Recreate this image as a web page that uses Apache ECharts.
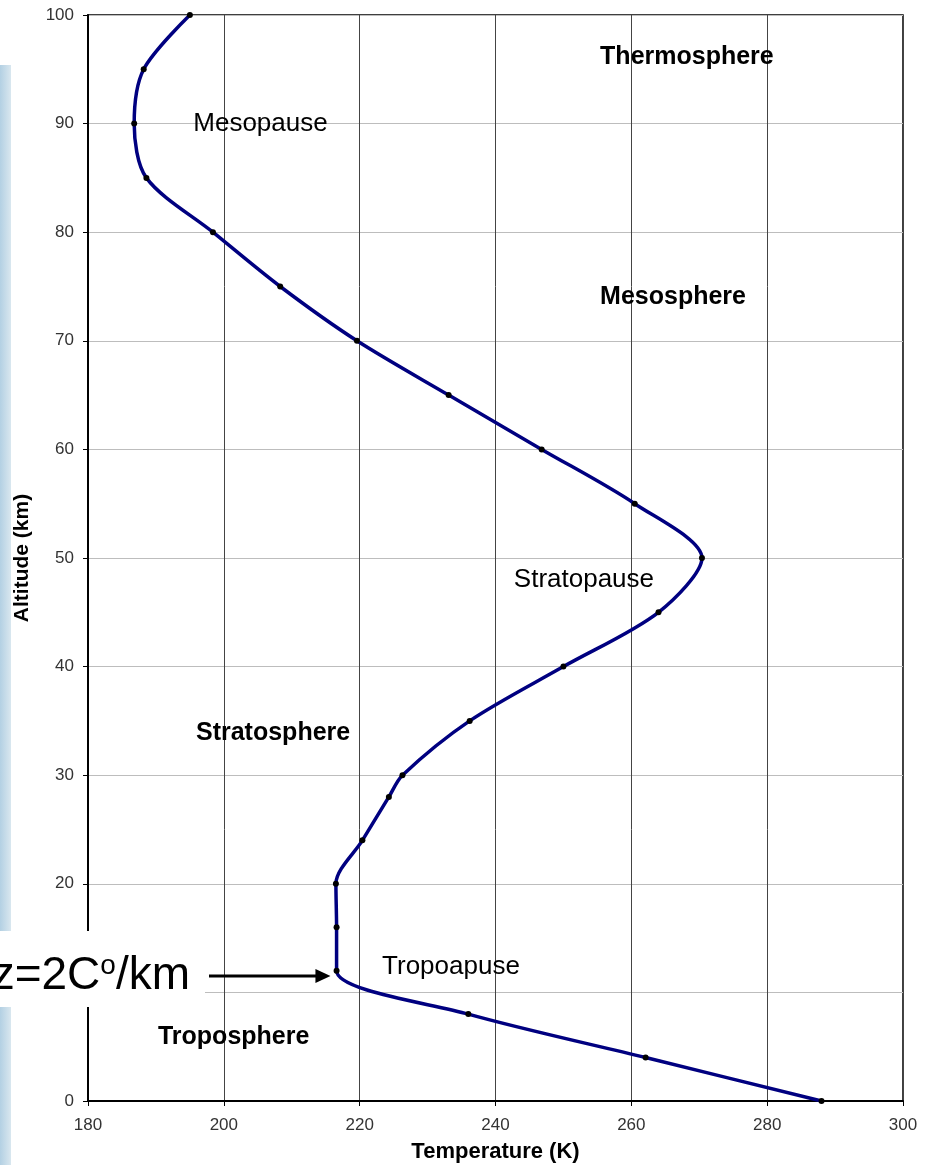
<!DOCTYPE html>
<html>
<head>
<meta charset="utf-8">
<script src="https://cdn.jsdelivr.net/npm/echarts@6/dist/echarts.min.js"></script>
<style>
html, body { margin: 0; padding: 0; background: #fff; }
#chart { width: 925px; height: 1168px; }
</style>
</head>
<body>
<div id="chart"></div>
<script>
// standard atmosphere profile
const altitude = [0, 4, 8, 12, 16, 20, 24, 28, 30, 35, 40, 45, 50, 55, 60, 65, 70, 75, 80, 85, 90, 95, 100];
const temperature = [288.0, 262.1, 236.0, 216.6, 216.6, 216.5, 220.4, 224.3, 226.3, 236.2, 250.0, 264.0, 270.4, 260.5, 246.8, 233.1, 219.6, 208.3, 198.4, 188.6, 186.8, 188.2, 195.0];

const xTicks = [180, 200, 220, 240, 260, 280, 300];
const yTicks = [0, 10, 20, 30, 40, 50, 60, 70, 80, 90, 100];

// layer names (bold) and boundary names (normal)
const layerNames = ['Thermosphere', 'Mesosphere', 'Stratosphere', 'Troposphere'];
const layerAt = [[255.4, 96.1], [255.4, 74.0], [195.9, 33.9], [190.3, 5.9]];
const pauseNames = ['Mesopause', 'Stratopause', 'Tropoapuse'];
const pauseAt = [[195.5, 90.0], [242.7, 48.0], [223.3, 12.4]];

const profile = temperature.map((t, i) => [t, altitude[i]]);

let myChart = echarts.init(document.getElementById('chart'));
const font = 'Liberation Sans, Arial, sans-serif';

myChart.setOption({
    animation: false,
    backgroundColor: '#fff',
    grid: {
        left: 88, right: 22, top: 15, bottom: 66,
        show: true, borderColor: '#000', borderWidth: 1.5
    },
    xAxis: {
        type: 'value',
        min: xTicks[0], max: xTicks[xTicks.length - 1], interval: 20,
        name: 'Temperature (K)',
        nameLocation: 'middle',
        nameGap: 40,
        nameTextStyle: { fontFamily: font, fontWeight: 'bold', fontSize: 22, color: '#000' },
        axisLine: { lineStyle: { color: '#000', width: 2 } },
        axisTick: { length: 5, lineStyle: { color: '#000' } },
        axisLabel: { margin: 16, fontFamily: font, fontSize: 17, color: '#333' },
        splitLine: { lineStyle: { color: '#444', width: 1 } }
    },
    yAxis: {
        type: 'value',
        min: yTicks[0], max: yTicks[yTicks.length - 1], interval: 10,
        name: 'Altitude (km)',
        nameLocation: 'middle',
        nameGap: 55,
        nameRotate: 90,
        nameTextStyle: { fontFamily: font, fontWeight: 'bold', fontSize: 21, color: '#000' },
        axisLine: { lineStyle: { color: '#000', width: 2 } },
        axisTick: { length: 5, lineStyle: { color: '#000' } },
        axisLabel: { margin: 14, fontFamily: font, fontSize: 17, color: '#333' },
        splitLine: { lineStyle: { color: '#bdbdbd', width: 1 } }
    },
    series: [
        {
            type: 'line',
            data: profile,
            smooth: 0.3,
            symbol: 'circle',
            symbolSize: 6,
            itemStyle: { color: '#000' },
            lineStyle: { color: '#000080', width: 3.5 },
            z: 3
        },
        {
            type: 'scatter',
            symbolSize: 0,
            silent: true,
            itemStyle: { opacity: 1 },
            data: layerNames.map((n, i) => ({ name: n, value: layerAt[i] })),
            label: {
                show: true, position: 'right', distance: 0,
                formatter: p => p.name,
                fontFamily: font, fontWeight: 'bold', fontSize: 25, color: '#000', opacity: 1
            },
            z: 4
        },
        {
            type: 'scatter',
            symbolSize: 0,
            silent: true,
            itemStyle: { opacity: 1 },
            data: pauseNames.map((n, i) => ({ name: n, value: pauseAt[i] })),
            label: {
                show: true, position: 'right', distance: 0,
                formatter: p => p.name,
                fontFamily: font, fontSize: 26, color: '#000', opacity: 1
            },
            z: 4
        }
    ]
});

// arrow pointing at the tropopause kink, plus the lapse-rate note box
const tip = myChart.convertToPixel({ gridIndex: 0 }, [215.7, 11.5]);
myChart.setOption({
    graphic: [
        {
            type: 'rect', z: 0, silent: true,
            shape: { x: 0, y: 65, width: 11, height: 1100 },
            style: {
                fill: new echarts.graphic.LinearGradient(0, 0, 1, 0, [
                    { offset: 0, color: '#b3d0e3' },
                    { offset: 1, color: '#d9e7ef' }
                ])
            }
        },
        {
            type: 'rect', z: 100, silent: true,
            shape: { x: 0, y: 931, width: 205, height: 76 },
            style: { fill: '#fff' }
        },
        {
            type: 'text', z: 101, silent: true,
            x: 190, y: tip[1],
            style: {
                text: '{b|z=2C}{s|o}{b|/km}',
                align: 'right', verticalAlign: 'middle',
                rich: {
                    b: { fontFamily: font, fontSize: 46, color: '#000' },
                    s: { fontFamily: font, fontSize: 28, color: '#000', verticalAlign: 'top', padding: [0, 0, 20, 0] }
                }
            }
        },
        {
            type: 'line', z: 101, silent: true,
            shape: { x1: 209, y1: tip[1], x2: tip[0] - 12, y2: tip[1] },
            style: { stroke: '#000', lineWidth: 3 }
        },
        {
            type: 'polygon', z: 101, silent: true,
            shape: { points: [[tip[0] - 15, tip[1] - 7], [tip[0], tip[1]], [tip[0] - 15, tip[1] + 7]] },
            style: { fill: '#000' }
        }
    ]
});

window.addEventListener('resize', function () {
    myChart.resize();
});
</script>
</body>
</html>
